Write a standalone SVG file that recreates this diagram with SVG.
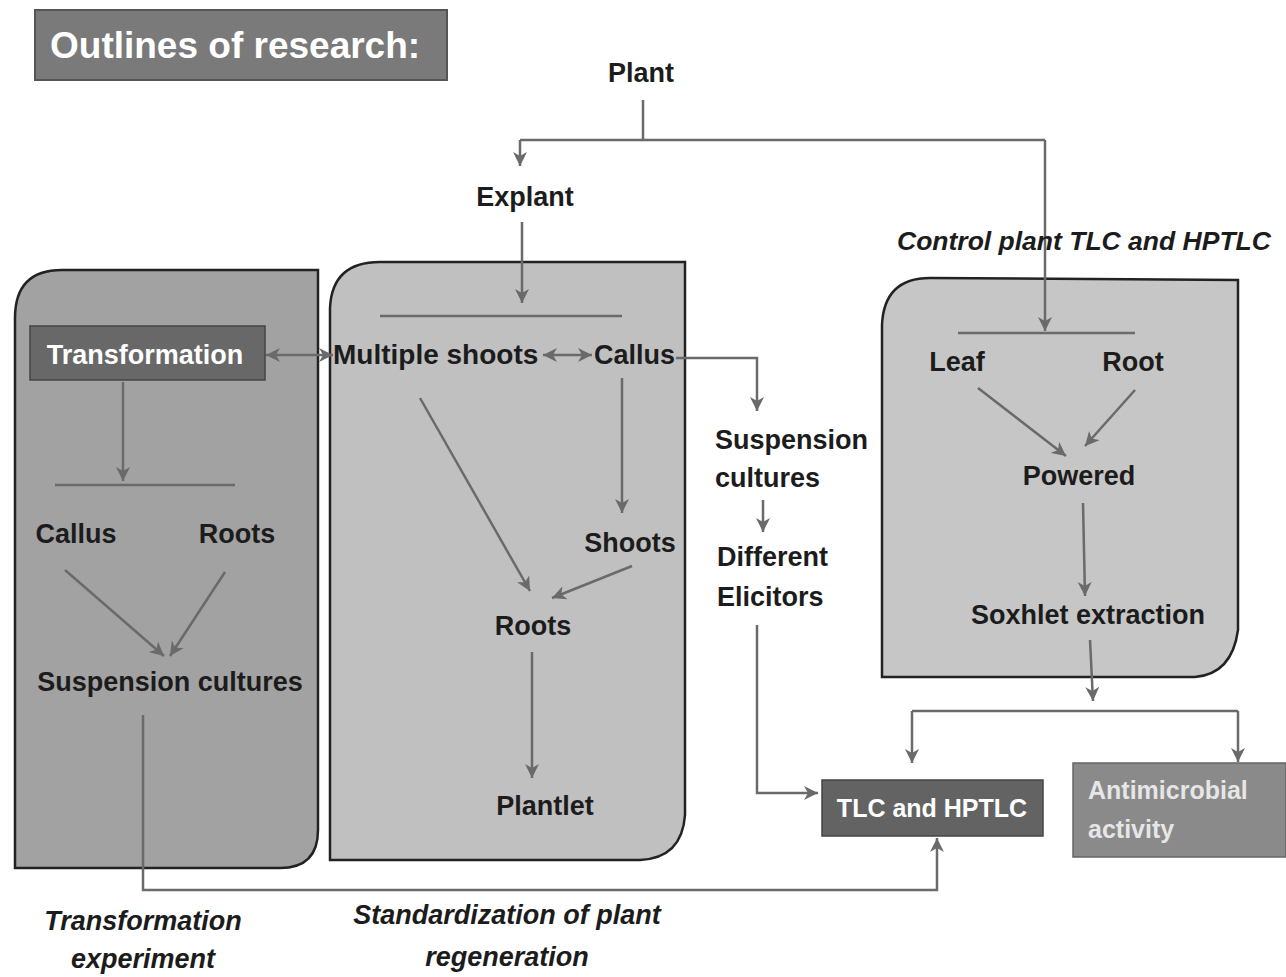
<svg xmlns="http://www.w3.org/2000/svg" width="1286" height="977" viewBox="0 0 1286 977">
<style>
.lbl{font-family:"Liberation Sans",Arial,sans-serif;font-weight:bold;font-size:27px;fill:#1c1c1c}
.it{font-family:"Liberation Sans",Arial,sans-serif;font-weight:bold;font-style:italic;font-size:27px;fill:#1c1c1c}
.wt{font-family:"Liberation Sans",Arial,sans-serif;font-weight:bold;font-size:27px;fill:#ffffff}
.panel{stroke:#222;stroke-width:2.5}
.c{fill:none;stroke:#6a6a6a;stroke-width:2.5}
.a{fill:none;stroke:#6a6a6a;stroke-width:2.5;marker-end:url(#ah)}
.d{fill:none;stroke:#6a6a6a;stroke-width:2.5;marker-end:url(#ah);marker-start:url(#ahs)}
</style>
<defs>
<marker id="ah" markerUnits="userSpaceOnUse" markerWidth="16" markerHeight="14" refX="14" refY="7" orient="auto">
<path d="M0,0 L14,7 L0,14 L4,7 Z" fill="#6a6a6a"/>
</marker>
<marker id="ahs" markerUnits="userSpaceOnUse" markerWidth="16" markerHeight="14" refX="0" refY="7" orient="auto">
<path d="M14,0 L0,7 L14,14 L10,7 Z" fill="#6a6a6a"/>
</marker>
</defs>
<rect width="1286" height="977" fill="#ffffff"/>

<g id="title">
<rect x="35" y="10" width="412" height="70" fill="#7a7a7a" stroke="#555" stroke-width="2"/>
<text x="50" y="58" class="wt" style="font-size:37px">Outlines of research:</text>
</g>

<g id="panel-left">
<path class="panel" fill="#a2a2a2" d="M15,318 Q15,270 62,270 L318,270 L318,830 Q318,868 280,868 L15,868 Z"/>
</g>
<g id="panel-middle">
<path class="panel" fill="#c0c0c0" d="M330,308 Q332,262 380,262 L685,262 L685,815 Q682,858 640,860 L330,860 Z"/>
</g>
<g id="panel-right">
<path class="panel" fill="#c6c6c6" d="M882,325 Q884,278 930,278 L1238,280 L1238,630 Q1232,674 1195,677 L882,677 Z"/>
</g>

<g id="connectors">
<line class="c" x1="643" y1="100" x2="643" y2="140"/>
<line class="c" x1="520" y1="140" x2="1045" y2="140"/>
<line class="a" x1="520" y1="140" x2="520" y2="166"/>
<line class="a" x1="1045" y1="140" x2="1045" y2="331"/>
<line class="a" x1="522" y1="222" x2="522" y2="303"/>
<line class="c" x1="380" y1="316" x2="622" y2="316"/>
<line class="d" x1="266" y1="355" x2="333" y2="355"/>
<line class="d" x1="543" y1="355" x2="592" y2="355"/>
<polyline class="a" points="676,358 757,358 757,411"/>
<line class="a" x1="763" y1="500" x2="763" y2="532"/>
<polyline class="a" points="757,625 757,793 818,793"/>
<line class="a" x1="420" y1="398" x2="530" y2="591"/>
<line class="a" x1="622" y1="378" x2="622" y2="513"/>
<line class="a" x1="632" y1="566" x2="552" y2="598"/>
<line class="a" x1="532" y1="652" x2="532" y2="778"/>
<line class="a" x1="123" y1="382" x2="123" y2="481"/>
<line class="c" x1="55" y1="485" x2="235" y2="485"/>
<line class="a" x1="65" y1="570" x2="164" y2="656"/>
<line class="a" x1="225" y1="572" x2="170" y2="656"/>
<polyline class="a" points="143,715 143,890 937,890 937,838"/>
<line class="c" x1="958" y1="333" x2="1135" y2="333"/>
<line class="a" x1="978" y1="388" x2="1066" y2="456"/>
<line class="a" x1="1135" y1="390" x2="1085" y2="446"/>
<line class="a" x1="1083" y1="503" x2="1085" y2="596"/>
<line class="a" x1="1090" y1="640" x2="1093" y2="701"/>
<line class="c" x1="912" y1="711" x2="1238" y2="711"/>
<line class="a" x1="912" y1="711" x2="912" y2="763"/>
<line class="a" x1="1238" y1="711" x2="1238" y2="762"/>
</g>

<g id="plant"><text x="641" y="82" class="lbl" text-anchor="middle">Plant</text></g>
<g id="explant"><text x="525" y="206" class="lbl" text-anchor="middle">Explant</text></g>
<g id="control-label"><text x="897" y="250" class="it" style="font-size:26.5px">Control plant TLC and HPTLC</text></g>

<g id="transformation">
<rect x="30" y="326" width="235" height="54" fill="#686868" stroke="#444" stroke-width="1.5"/>
<text x="145" y="364" class="wt" text-anchor="middle">Transformation</text>
</g>
<g id="callus-left"><text x="76" y="543" class="lbl" text-anchor="middle">Callus</text></g>
<g id="roots-left"><text x="237" y="543" class="lbl" text-anchor="middle">Roots</text></g>
<g id="suspension-left"><text x="170" y="691" class="lbl" text-anchor="middle">Suspension cultures</text></g>

<g id="multiple-shoots"><text x="333" y="364" class="lbl" style="font-size:28px">Multiple shoots</text></g>
<g id="callus-mid"><text x="594" y="364" class="lbl">Callus</text></g>
<g id="shoots"><text x="630" y="552" class="lbl" text-anchor="middle">Shoots</text></g>
<g id="roots-mid"><text x="533" y="635" class="lbl" text-anchor="middle">Roots</text></g>
<g id="plantlet"><text x="545" y="815" class="lbl" text-anchor="middle">Plantlet</text></g>

<g id="suspension-mid"><text x="715" y="449" class="lbl">Suspension</text><text x="715" y="487" class="lbl">cultures</text></g>
<g id="elicitors"><text x="717" y="566" class="lbl">Different</text><text x="717" y="606" class="lbl">Elicitors</text></g>

<g id="leaf"><text x="957" y="371" class="lbl" text-anchor="middle">Leaf</text></g>
<g id="root"><text x="1133" y="371" class="lbl" text-anchor="middle">Root</text></g>
<g id="powered"><text x="1079" y="485" class="lbl" text-anchor="middle">Powered</text></g>
<g id="soxhlet"><text x="1088" y="624" class="lbl" text-anchor="middle">Soxhlet extraction</text></g>

<g id="tlc">
<rect x="822" y="780" width="221" height="56" fill="#636363" stroke="#444" stroke-width="1.5"/>
<text x="932" y="817" class="wt" text-anchor="middle" style="font-size:25px">TLC and HPTLC</text>
</g>
<g id="antimicrobial">
<rect x="1073" y="763" width="213" height="94" fill="#8a8a8a" stroke="#666" stroke-width="1.5"/>
<text x="1088" y="799" class="wt" style="font-size:25px;fill:#e6e6e6">Antimicrobial</text>
<text x="1088" y="838" class="wt" style="font-size:25px;fill:#e6e6e6">activity</text>
</g>

<g id="label-transformation"><text x="143" y="930" class="it" text-anchor="middle">Transformation</text><text x="143" y="968" class="it" text-anchor="middle">experiment</text></g>
<g id="label-standardization"><text x="507" y="924" class="it" text-anchor="middle">Standardization of plant</text><text x="507" y="966" class="it" text-anchor="middle">regeneration</text></g>
</svg>
